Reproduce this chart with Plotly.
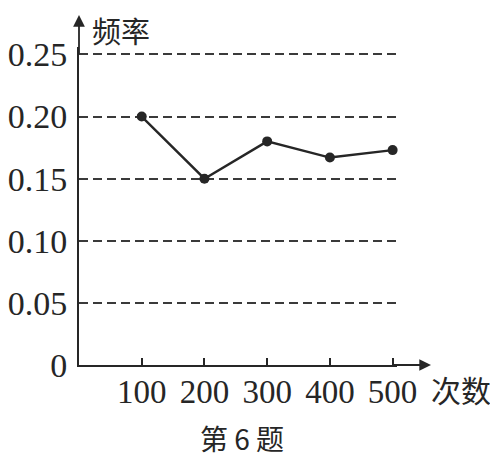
import plotly.graph_objects as go

trials = [100, 200, 300, 400, 500]
freq = [0.20, 0.15, 0.18, 0.167, 0.173]
y_ticks = [0, 0.05, 0.10, 0.15, 0.20, 0.25]
y_tick_text = ["0", "0.05", "0.10", "0.15", "0.20", "0.25"]
x_ticks = [100, 200, 300, 400, 500]
x_tick_text = ["100", "200", "300", "400", "500"]

# page has an 8px body margin, so the figure canvas starts at (8, 8)
OFF = 8
W, H = 498 - OFF, 462 - OFF
X0, Y0 = 79, 365          # origin in page pixels
XPER, YPER = 0.627, 1244  # pixels per unit
Y_TOP = 0.256
X_RIGHT = 507
L = X0 - OFF
T = int(round(Y0 - Y_TOP * YPER)) - OFF
pw = int(round(X_RIGHT * XPER))
ph = (Y0 - OFF) - T
R = W - L - pw
B = H - T - ph

def px(x):
    return (x - OFF - L) / pw

def py(y):
    return (T + ph - (y - OFF)) / ph

ink = "#262626"
font_fam = "Liberation Serif, Noto Sans CJK SC, serif"
cjk_fam = "Noto Sans CJK SC, sans-serif"

fig = go.Figure()
fig.add_trace(go.Scatter(
    x=trials, y=freq, mode="lines+markers",
    line=dict(color=ink, width=2.4),
    marker=dict(color=ink, size=10),
    cliponaxis=False, showlegend=False,
))

fig.update_layout(
    template="none",
    width=W, height=H,
    margin=dict(l=L, r=R, t=T, b=B, pad=0, autoexpand=False),
    paper_bgcolor="white", plot_bgcolor="white",
    font=dict(family=font_fam, color=ink, size=33),
    xaxis=dict(
        range=[0, X_RIGHT], tickvals=x_ticks, ticktext=x_tick_text,
        ticks="inside", ticklen=7, tickwidth=1.5, tickcolor=ink,
        showline=True, linecolor=ink, linewidth=1.8,
        showgrid=False, zeroline=False, automargin=False,
        tickfont=dict(size=33, family=font_fam, color=ink),
        ticklabelstandoff=-4,
    ),
    yaxis=dict(
        range=[0, Y_TOP], tickvals=y_ticks, ticktext=y_tick_text,
        ticks="", showline=True, linecolor=ink, linewidth=1.8,
        showgrid=True, gridcolor="#3a3a3a", gridwidth=1.5, griddash="9px,5px",
        zeroline=False, automargin=False,
        tickfont=dict(size=34, family=font_fam, color=ink),
        ticklabelstandoff=3,
    ),
)

# axis arrows
fig.add_annotation(xref="paper", yref="paper", x=0, y=py(15), ax=0, ay=40,
                   text="", showarrow=True, arrowhead=2, arrowsize=1.3,
                   arrowwidth=1.8, arrowcolor=ink)
fig.add_annotation(xref="paper", yref="paper", x=px(431), y=0, ax=-40, ay=0,
                   text="", showarrow=True, arrowhead=2, arrowsize=1.3,
                   arrowwidth=1.8, arrowcolor=ink)

# labels
fig.add_annotation(xref="paper", yref="paper", x=px(91), y=py(30), text="频率",
                   showarrow=False, xanchor="left", yanchor="middle", borderpad=0,
                   font=dict(size=29, family=cjk_fam, color=ink))
fig.add_annotation(xref="paper", yref="paper", x=px(430), y=py(389), text="次数",
                   showarrow=False, xanchor="left", yanchor="middle", borderpad=0,
                   font=dict(size=30, family=cjk_fam, color=ink))
fig.add_annotation(xref="paper", yref="paper", x=px(242), y=py(438), text="第 6 题",
                   showarrow=False, xanchor="center", yanchor="middle", borderpad=0,
                   font=dict(size=28, family=cjk_fam, color=ink))

fig.write_html("out.html")
